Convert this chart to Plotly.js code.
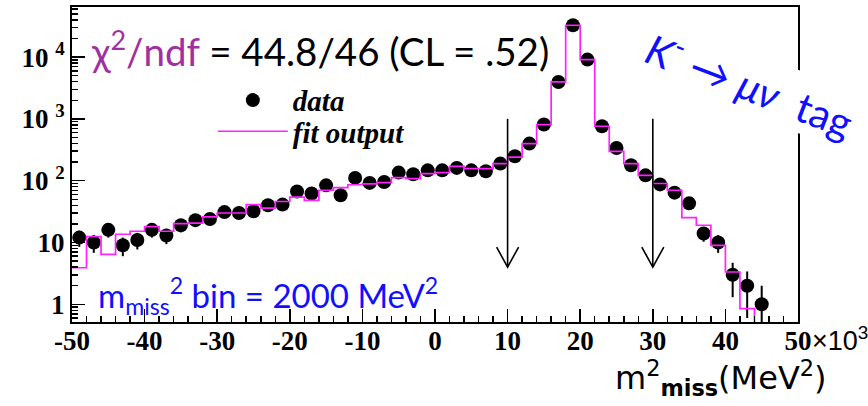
<!DOCTYPE html>
<html>
<head>
<meta charset="utf-8">
<script src="https://cdn.plot.ly/plotly-3.0.1.min.js"></script>
<style>html,body{margin:0;padding:0;background:#fff;}</style>
</head>
<body>
<div id="plot" style="width:868px;height:406px;"></div>
<script>
// Missing-mass-squared spectrum, units of 10^3 MeV^2, 2000 MeV^2 bins
const binWidth = 2;
const binCenters = [-49,-47,-45,-43,-41,-39,-37,-35,-33,-31,-29,-27,-25,-23,-21,-19,-17,-15,-13,-11,
  -9,-7,-5,-3,-1,1,3,5,7,9,11,13,15,17,19,21,23,25,27,29,31,33,35,37,39,41,43,45];
const dataCounts = [12,10,16,9,11,16,13,19,23,24,31,30,32,40,41,67,62,84,58,111,
  92,95,135,127,147,147,161,147,142,189,248,398,809,3955,32700,9100,760,338,178,122,
  87,64,43,14,10,3,2,1];
const dataErrors = [3.5,3.2,4.0,3.0,3.3,4.0,3.6,4.4,4.8,4.9,5.6,5.5,5.7,6.3,6.4,8.2,7.9,9.2,7.6,10.5,
  9.6,9.7,11.6,11.3,12.1,12.1,12.7,12.1,11.9,13.7,15.7,20,28,63,181,95,28,18,13.3,11,
  9.3,8,6.6,3.7,3.2,1.7,1.4,1.0];
const fitCounts = [3.9,12.5,6.4,13.6,15.2,18.1,15.2,20.2,20.5,25.9,30,30,41,36,46,54,48,70,77,86,
  89,93,112,108,130,135,170,157,157,189,240,398,809,3955,32700,9100,760,299,189,122,
  90,70,25.3,19,9.0,3.33,0.85,0.2];
const xTickVals = [-50,-40,-30,-20,-10,0,10,20,30,40,50];
const xTickText = ['-50','-40','-30','-20','-10','0','10','20','30','40','50'];
const yTickVals = [1,10,100,1000,10000];
const yTickText = ['1','10','10 <sup>2</sup>','10 <sup>3</sup>','10 <sup>4</sup>'];
const cutPositions = [10,30];

// histogram step outline: left bin edges plus the closing edge
const fitEdges = binCenters.map(c => c - binWidth / 2).concat([binCenters[binCenters.length-1] + binWidth / 2]);
const fitLevels = fitCounts.concat([fitCounts[fitCounts.length-1]]);

// minor ticks on the log axis: 2..9 x 10^k
const yMinor = [];
for (let k = -1; k <= 4; k++) for (let m = 2; m <= 9; m++) yMinor.push(m * Math.pow(10, k));

const serifBold = {family:'Liberation Serif, Times New Roman, serif', size:27, color:'#000', weight:'bold'};
const legendFont = {family:'Liberation Serif, Times New Roman, serif', size:29, color:'#000', weight:'bold', style:'italic'};

const traces = [
  {
    type:'scatter', mode:'markers', name:'data', legend:'legend',
    x: binCenters, y: dataCounts,
    marker:{color:'#000', size:14},
    error_y:{type:'data', array:dataErrors, visible:true, color:'#000', thickness:2, width:0}
  },
  {
    type:'scatter', mode:'lines', name:'fit output', legend:'legend2',
    x: fitEdges, y: fitLevels,
    line:{shape:'hv', color:'#ff22ff', width:1.7}
  }
];

const shapes = [];
cutPositions.forEach(xc => {
  shapes.push({type:'line', xref:'x', yref:'y', x0:xc, x1:xc, y0:4, y1:1000, line:{color:'#000', width:1.6}});
  shapes.push({type:'path', xref:'x', yref:'y', xsizemode:'pixel', ysizemode:'pixel', xanchor:xc, yanchor:4,
    path:'M-11,20 L0,0 L11,20', line:{color:'#000', width:1.6}});
});

const annotations = [
  {xref:'paper', yref:'paper', x:0.024, y:0.868, xanchor:'left', yanchor:'middle', showarrow:false,
   text:'<span style="color:#a0309f">χ<sup>2</sup>/ndf</span> = 44.8/46 (CL = .52)',
   font:{family:'Lato, Open Sans, sans-serif', size:38.5, color:'#000'}},
  {xref:'paper', yref:'paper', x:0.033, y:0.085, xanchor:'left', yanchor:'middle', showarrow:false,
   text:'m<sub>miss</sub><sup>2</sup> bin = 2000 MeV<sup>2</sup>',
   font:{family:'Lato, Open Sans, sans-serif', size:33, color:'#1010ff'}},
  {xref:'paper', yref:'paper', x:0.934, y:0.76, xanchor:'center', yanchor:'middle', showarrow:false,
   textangle:21, bgcolor:'#fff', borderpad:2,
   text:'<i>K</i><sup>-</sup> → <i>μν</i>  tag',
   font:{family:'Lato, Open Sans, sans-serif', size:41, color:'#1010ff'}},
  {xref:'paper', yref:'paper', x:1.016, y:-0.055, xanchor:'left', yanchor:'middle', showarrow:false,
   text:'×10<sup>3</sup>',
   font:{family:'Liberation Sans, Arial, sans-serif', size:27, color:'#000'}},
  {xref:'paper', yref:'paper', x:0.745, y:-0.178, xanchor:'left', yanchor:'middle', showarrow:false,
   text:'m<sup>2</sup><sub><b>miss</b></sub>(MeV<sup>2</sup>)',
   font:{family:'DejaVu Sans, sans-serif', size:32, color:'#000'}}
];

const layout = {
  width:868, height:406,
  margin:{l:72, r:70, t:7, b:84},
  paper_bgcolor:'#fff', plot_bgcolor:'#fff',
  showlegend:true,
  legend:{x:0.194, y:0.785, xanchor:'left', yanchor:'top', bgcolor:'rgba(0,0,0,0)', itemwidth:70, font:legendFont},
  legend2:{x:0.194, y:0.686, xanchor:'left', yanchor:'top', bgcolor:'rgba(0,0,0,0)', itemwidth:70, font:legendFont},
  xaxis:{range:[-50,50], tickmode:'array', tickvals:xTickVals, ticktext:xTickText, ticks:'inside', ticklen:13, tickwidth:1.5,
    tickcolor:'#000', showline:true, linewidth:2, linecolor:'#000', mirror:true, showgrid:false, zeroline:false,
    tickfont:serifBold, ticklabelstandoff:-6,
    minor:{dtick:2, tick0:0, ticks:'inside', ticklen:6, tickwidth:1.5, tickcolor:'#000', showgrid:false}},
  yaxis:{type:'log', range:[-0.2865, 4.81], tickmode:'array', tickvals:yTickVals, ticktext:yTickText,
    ticks:'inside', ticklen:13, tickwidth:1.5, tickcolor:'#000', showline:true, linewidth:2, linecolor:'#000',
    mirror:true, showgrid:false, zeroline:false, tickfont:serifBold,
    minor:{tickmode:'array', tickvals:yMinor, ticks:'inside', ticklen:6, tickwidth:1.5, tickcolor:'#000', showgrid:false}},
  shapes:shapes,
  annotations:annotations
};

Plotly.newPlot('plot', traces, layout, {displayModeBar:false, staticPlot:true});
</script>
</body>
</html>
